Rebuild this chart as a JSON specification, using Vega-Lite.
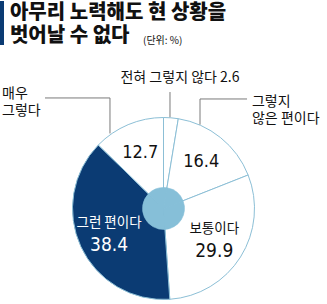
{
  "$schema": "https://vega.github.io/schema/vega-lite/v6.json",
  "width": 183,
  "height": 183,
  "autosize": {"type": "none"},
  "padding": {"left": 72, "top": 117, "right": 72, "bottom": 4},
  "background": "white",
  "config": {"view": {"stroke": null}},
  "datasets": {
    "slices": [
      {"category": "전혀 그렇지 않다", "value": 2.6, "order": 1, "label": "", "num": ""},
      {"category": "그렇지 않은 편이다", "value": 16.4, "order": 2, "label": "", "num": "16.4"},
      {"category": "보통이다", "value": 29.9, "order": 3, "label": "보통이다", "num": "29.9"},
      {"category": "그런 편이다", "value": 38.4, "order": 4, "label": "그런 편이다", "num": "38.4"},
      {"category": "매우 그렇다", "value": 12.7, "order": 5, "label": "", "num": "12.7"}
    ],
    "leaders": [
      {"x": -1.295, "y": 1.208, "x2": -0.585, "y2": 1.208},
      {"x": -0.585, "y": 1.208, "x2": -0.585, "y2": 0.82},
      {"x": 0.071, "y": 1.273, "x2": 0.071, "y2": 0.998},
      {"x": 0.913, "y": 1.197, "x2": 0.399, "y2": 1.197},
      {"x": 0.399, "y": 1.197, "x2": 0.399, "y2": 0.917}
    ],
    "outerCenter": [
      {"x": 0.18, "y": 1.426, "text": "전혀 그렇지 않다 2.6"}
    ],
    "outerLeft": [
      {"x": -1.765, "y": 1.251, "text": "매우\n그렇다"},
      {"x": 0.967, "y": 1.164, "text": "그렇지\n않은 편이다"}
    ],
    "titleLines": [
      {"x": -1.678, "y": 2.132, "text": "아무리 노력해도 현 상황을"},
      {"x": -1.678, "y": 1.886, "text": "벗어날 수 없다"}
    ],
    "unit": [
      {"x": -0.224, "y": 1.831, "text": "(단위: %)"}
    ],
    "bar": [
      {"x": -1.787, "x2": -1.743, "y": 2.268, "y2": 1.787}
    ]
  },
  "layer": [
    {
      "data": {"name": "slices"},
      "mark": {"type": "arc", "outerRadius": 91, "stroke": "#8cbfd6", "strokeWidth": 1},
      "encoding": {
        "theta": {"field": "value", "type": "quantitative", "stack": true},
        "order": {"field": "order", "type": "quantitative"},
        "color": {
          "field": "category",
          "type": "nominal",
          "scale": {
            "domain": ["전혀 그렇지 않다", "그렇지 않은 편이다", "보통이다", "그런 편이다", "매우 그렇다"],
            "range": ["#ffffff", "#ffffff", "#ffffff", "#0b3b73", "#ffffff"]
          },
          "legend": null
        }
      }
    },
    {
      "data": {"name": "slices"},
      "mark": {"type": "arc", "outerRadius": 21, "fill": "#86bfd8", "stroke": "#86bfd8", "strokeWidth": 0.6},
      "encoding": {
        "theta": {"field": "value", "type": "quantitative", "stack": true},
        "order": {"field": "order", "type": "quantitative"}
      }
    },
    {
      "data": {"name": "slices"},
      "mark": {"type": "text", "radius": 60, "dy": -11, "font": "Noto Sans CJK KR", "fontSize": 13.5},
      "encoding": {
        "theta": {"field": "value", "type": "quantitative", "stack": true},
        "order": {"field": "order", "type": "quantitative"},
        "text": {"field": "label"},
        "color": {"condition": {"test": "datum.category == '그런 편이다'", "value": "#ffffff"}, "value": "#111111"}
      }
    },
    {
      "data": {"name": "slices"},
      "mark": {"type": "text", "radius": 60, "dy": 11, "font": "Liberation Sans Narrow, DejaVu Sans Condensed, sans-serif", "fontSize": 19, "fontWeight": 500},
      "encoding": {
        "theta": {"field": "value", "type": "quantitative", "stack": true},
        "order": {"field": "order", "type": "quantitative"},
        "text": {"condition": {"test": "datum.label != ''", "field": "num"}, "value": ""},
        "color": {"condition": {"test": "datum.category == '그런 편이다'", "value": "#ffffff"}, "value": "#111111"}
      }
    },
    {
      "data": {"name": "slices"},
      "mark": {"type": "text", "radius": 60, "font": "Liberation Sans Narrow, DejaVu Sans Condensed, sans-serif", "fontSize": 18, "fontWeight": 500, "color": "#111111"},
      "encoding": {
        "theta": {"field": "value", "type": "quantitative", "stack": true},
        "order": {"field": "order", "type": "quantitative"},
        "text": {"condition": {"test": "datum.label == ''", "field": "num"}, "value": ""}
      }
    },
    {
      "data": {"name": "leaders"},
      "mark": {"type": "rule", "color": "#7a7a7a", "strokeWidth": 1},
      "encoding": {
        "x": {"field": "x", "type": "quantitative", "scale": {"domain": [-1, 1], "nice": false, "zero": false}, "axis": null},
        "y": {"field": "y", "type": "quantitative", "scale": {"domain": [-1, 1], "nice": false, "zero": false}, "axis": null},
        "x2": {"field": "x2"},
        "y2": {"field": "y2"}
      }
    },
    {
      "data": {"name": "outerCenter"},
      "mark": {"type": "text", "align": "center", "baseline": "middle", "font": "Noto Sans CJK KR", "fontSize": 14, "color": "#111111"},
      "encoding": {
        "x": {"field": "x", "type": "quantitative", "scale": {"domain": [-1, 1], "nice": false, "zero": false}, "axis": null},
        "y": {"field": "y", "type": "quantitative", "scale": {"domain": [-1, 1], "nice": false, "zero": false}, "axis": null},
        "text": {"field": "text"}
      }
    },
    {
      "data": {"name": "outerLeft"},
      "mark": {"type": "text", "align": "left", "baseline": "middle", "lineBreak": "\n", "lineHeight": 17, "font": "Noto Sans CJK KR", "fontSize": 14, "color": "#111111"},
      "encoding": {
        "x": {"field": "x", "type": "quantitative", "scale": {"domain": [-1, 1], "nice": false, "zero": false}, "axis": null},
        "y": {"field": "y", "type": "quantitative", "scale": {"domain": [-1, 1], "nice": false, "zero": false}, "axis": null},
        "text": {"field": "text"}
      }
    },
    {
      "data": {"name": "titleLines"},
      "mark": {"type": "text", "align": "left", "baseline": "middle", "font": "Noto Sans CJK KR Black, Noto Sans CJK KR Bold, Noto Sans CJK KR", "fontSize": 20, "fontWeight": 900, "color": "#111111"},
      "encoding": {
        "x": {"field": "x", "type": "quantitative", "scale": {"domain": [-1, 1], "nice": false, "zero": false}, "axis": null},
        "y": {"field": "y", "type": "quantitative", "scale": {"domain": [-1, 1], "nice": false, "zero": false}, "axis": null},
        "text": {"field": "text"}
      }
    },
    {
      "data": {"name": "unit"},
      "mark": {"type": "text", "align": "left", "baseline": "middle", "font": "Noto Sans CJK KR", "fontSize": 10, "color": "#111111"},
      "encoding": {
        "x": {"field": "x", "type": "quantitative", "scale": {"domain": [-1, 1], "nice": false, "zero": false}, "axis": null},
        "y": {"field": "y", "type": "quantitative", "scale": {"domain": [-1, 1], "nice": false, "zero": false}, "axis": null},
        "text": {"field": "text"}
      }
    },
    {
      "data": {"name": "bar"},
      "mark": {"type": "rect", "color": "#0b3b73"},
      "encoding": {
        "x": {"field": "x", "type": "quantitative", "scale": {"domain": [-1, 1], "nice": false, "zero": false}, "axis": null},
        "y": {"field": "y", "type": "quantitative", "scale": {"domain": [-1, 1], "nice": false, "zero": false}, "axis": null},
        "x2": {"field": "x2"},
        "y2": {"field": "y2"}
      }
    }
  ]
}
